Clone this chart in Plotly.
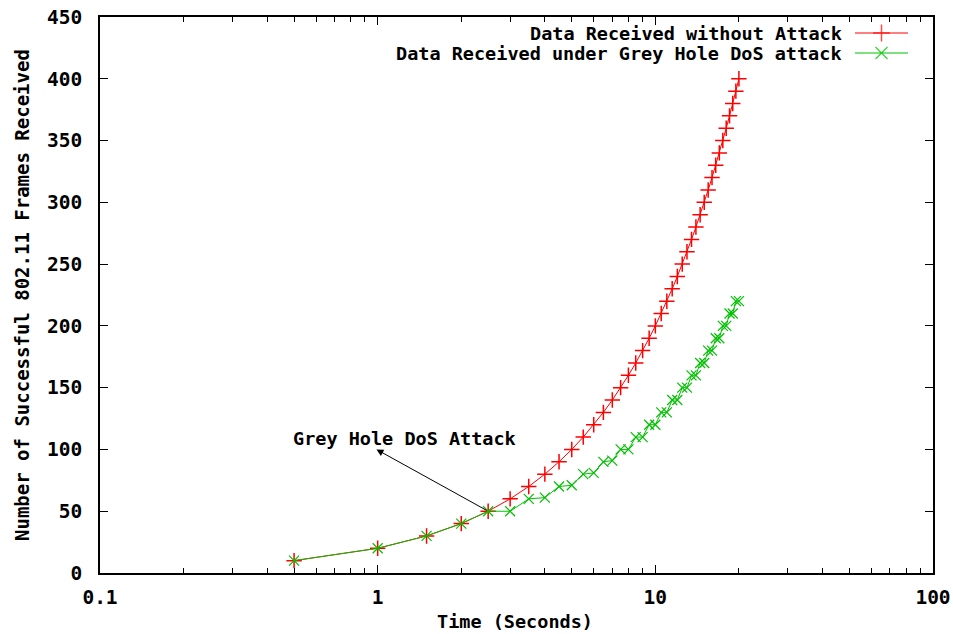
import math
import plotly.graph_objects as go

# ---- data ----
time_s = [0.5, 1, 1.5, 2, 2.5, 3, 3.5, 4, 4.5, 5, 5.5, 6, 6.5, 7, 7.5, 8, 8.5, 9, 9.5, 10,
          10.5, 11, 11.5, 12, 12.5, 13, 13.5, 14, 14.5, 15, 15.5, 16, 16.5, 17, 17.5, 18,
          18.5, 19, 19.5, 20]
no_attack = [10, 20, 30, 40, 50, 60, 70, 80, 90, 100, 110, 120, 130, 140, 150, 160, 170, 180,
             190, 200, 210, 220, 230, 240, 250, 260, 270, 280, 290, 300, 310, 320, 330, 340,
             350, 360, 370, 380, 390, 400]
grey_hole = [10, 20, 30, 40, 50, 50, 60, 61, 70, 71, 80, 81, 90, 91, 100, 100, 110, 110,
             120, 120, 130, 130, 140, 140, 150, 150, 160, 160, 170, 170, 180, 180, 190, 190,
             200, 200, 210, 210, 220, 220]
series_names = ["Data Received without Attack", "Data Received under Grey Hole DoS attack"]
y_ticks = [0, 50, 100, 150, 200, 250, 300, 350, 400, 450]
x_ticks = [0.1, 1, 10, 100]
x_tick_text = ["0.1", "1", "10", "100"]
x_minor = [m * d for d in (0.1, 1, 10) for m in range(2, 10)]

RED = "#ff0000"
GREEN = "#00c000"
FONT = dict(family="DejaVu Sans Mono", size=18.5, color="black", weight="bold")
TICKFONT = dict(family="DejaVu Sans Mono", size=19.5, color="black", weight="bold")

ML, MR, MT, MB = 100, 20, 17, 61
W = 953.0 - ML - MR
H = 634.0 - MT - MB
def px_x(p):
    return (p - ML) / W
def px_y(p):
    return (634 - MB - p) / H

fig = go.Figure()
fig.add_trace(go.Scatter(x=time_s, y=no_attack, mode="lines+markers", name=series_names[0],
                         line=dict(color=RED, width=1),
                         marker=dict(symbol="cross-thin", size=11, line=dict(color=RED, width=1.5)),
                         showlegend=False))
fig.add_trace(go.Scatter(x=time_s, y=grey_hole, mode="lines+markers", name=series_names[1],
                         line=dict(color=GREEN, width=1),
                         marker=dict(symbol="x-thin", size=10, line=dict(color=GREEN, width=1.2)),
                         showlegend=False))

# legend samples (gnuplot style: text left, sample right) on an overlay axis
leg_y = [px_y(33), px_y(53)]
leg_sym = ["cross-thin", "x-thin"]
leg_col = [RED, GREEN]
for i in range(2):
    fig.add_trace(go.Scatter(x=[px_x(855), px_x(881.5), px_x(908)], y=[leg_y[i]] * 3,
                             xaxis="x2", yaxis="y2",
                             mode="lines+markers", line=dict(color=leg_col[i], width=1),
                             marker=dict(symbol=leg_sym[i], size=[0, 12, 0],
                                         line=dict(color=leg_col[i], width=1.5)),
                             showlegend=False, hoverinfo="skip"))
    fig.add_annotation(xref="paper", yref="paper", x=px_x(844), y=leg_y[i], text=series_names[i],
                       showarrow=False, xanchor="right", yanchor="middle", font=FONT)

fig.update_layout(
    width=953, height=634,
    margin=dict(l=ML, r=MR, t=MT, b=MB, autoexpand=False),
    paper_bgcolor="white", plot_bgcolor="white",
    font=FONT, showlegend=False,
    xaxis=dict(type="log", range=[-1, 2], tickvals=x_ticks, ticktext=x_tick_text,
               ticks="inside", ticklen=8, tickwidth=1, tickcolor="black",
               showline=True, linecolor="black", linewidth=1.5, mirror="allticks",
               showgrid=False, zeroline=False, ticklabelstandoff=6, automargin=False,
               minor=dict(tickmode="array", tickvals=x_minor, ticks="inside", ticklen=5,
                          tickwidth=1, tickcolor="black", showgrid=False),
               tickfont=TICKFONT),
    yaxis=dict(range=[0, 450], tickvals=y_ticks, ticks="inside", ticklen=8, tickwidth=1,
               tickcolor="black", showline=True, linecolor="black", linewidth=1.5,
               mirror="allticks", showgrid=False, zeroline=False, ticklabelstandoff=12,
               automargin=False, tickfont=TICKFONT),
    xaxis2=dict(overlaying="x", range=[0, 1], visible=False, domain=[0, 1], automargin=False),
    yaxis2=dict(overlaying="y", range=[0, 1], visible=False, automargin=False),
)

# axis titles
fig.add_annotation(xref="paper", yref="paper", x=px_x(515), y=px_y(622), text="Time (Seconds)",
                   showarrow=False, xanchor="center", yanchor="middle", font=FONT)
fig.add_annotation(xref="paper", yref="paper", x=px_x(22), y=0.5,
                   text="Number of Successful 802.11 Frames Received", textangle=-90,
                   showarrow=False, xanchor="center", yanchor="middle",
                   font=dict(family="DejaVu Sans Mono", size=19, color="black", weight="bold"))

# annotation text and arrow
fig.add_annotation(x=math.log10(1.25), y=109, xref="x", yref="y", text="Grey Hole DoS Attack",
                   showarrow=False, xanchor="center", yanchor="middle", font=FONT)
fig.add_annotation(x=math.log10(0.99), y=100, xref="x", yref="y",
                   ax=math.log10(2.5), ay=50, axref="x", ayref="y", text="",
                   showarrow=True, arrowhead=2, arrowsize=1.4, arrowwidth=1, arrowcolor="black")

fig.write_html("out.html")
